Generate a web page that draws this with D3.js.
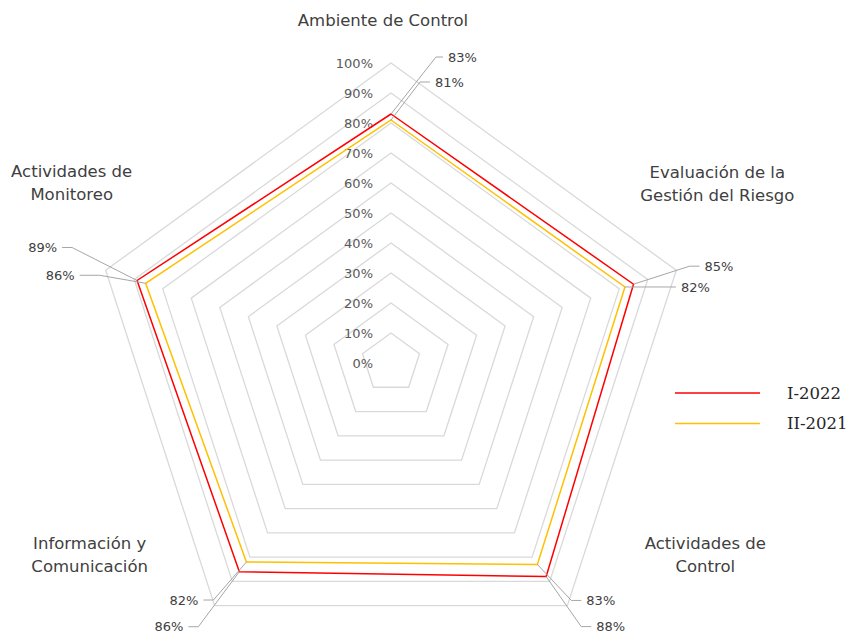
<!DOCTYPE html>
<html><head><meta charset="utf-8">
<script src="https://cdn.jsdelivr.net/npm/d3@7"></script>
<style>body{margin:0;background:#fff}svg{display:block}</style>
</head><body>
<svg id="c" width="850" height="633"></svg>
<script>
const categories = ["Ambiente de Control", "Evaluación de la Gestión del Riesgo", "Actividades de Control", "Información y Comunicación", "Actividades de Monitoreo"];
const categoryLines = [["Ambiente de Control"], ["Evaluación de la", "Gestión del Riesgo"], ["Actividades de", "Control"], ["Información y", "Comunicación"], ["Actividades de", "Monitoreo"]];
const seriesNames = ["I-2022", "II-2021"];
const valuesI2022 = [83, 85, 88, 86, 89];
const valuesII2021 = [81, 82, 83, 82, 86];
const tickValues = [0, 10, 20, 30, 40, 50, 60, 70, 80, 90, 100];
const tickLabels = ["0%", "10%", "20%", "30%", "40%", "50%", "60%", "70%", "80%", "90%", "100%"];

const colors = ["#ff0000", "#ffc000"];
const series = [valuesI2022, valuesII2021];

const svg = d3.select("#c");
const cx = 391, cy = 363, R = 300;
const r = d3.scaleLinear().domain([0, 100]).range([0, R]);
const ang = d3.scalePoint().domain(d3.range(categories.length + 1)).range([0, 2 * Math.PI]);
const pt = (i, v) => {
  const a = ang(i);
  return [cx + r(v) * Math.sin(a), cy - r(v) * Math.cos(a)];
};

// grid
const g = svg.append("g");
tickValues.filter(t => t > 0).forEach(t => {
  g.append("path")
    .attr("d", d3.line()(categories.map((c, i) => pt(i, t))) + "Z")
    .attr("fill", "none").attr("stroke", "#d9d9d9").attr("stroke-width", 1.3);
});

// tick labels
tickValues.forEach((t, k) => {
  svg.append("text").attr("x", cx - 18).attr("y", cy - r(t))
    .attr("dy", "0.36em").attr("text-anchor", "end")
    .attr("font-family", "DejaVu Sans").attr("font-size", 13).attr("fill", "#595959")
    .text(tickLabels[k]);
});

// series lines
series.forEach((vals, s) => {
  svg.append("path")
    .attr("d", d3.line()(vals.map((v, i) => pt(i, v))) + "Z")
    .attr("fill", "none").attr("stroke", colors[s]).attr("stroke-width", 1.5)
    .attr("stroke-linejoin", "miter");
});

// category labels (offset from the outer vertex)
const catOffsets = [[-8, -43], [41, -98], [138, -63], [-125, -63], [-34, -99]];
categoryLines.forEach((lines, i) => {
  const [vx, vy] = pt(i, 100);
  const [dx, dy] = catOffsets[i];
  const t = svg.append("text").attr("text-anchor", "middle")
    .attr("font-family", "DejaVu Sans").attr("font-size", 16.5).attr("fill", "#404040");
  lines.forEach((ln, j) => {
    t.append("tspan").attr("x", vx + dx).attr("y", vy + dy + j * 23).attr("dy", "0.36em").text(ln);
  });
});

// data labels with leader lines: [elbow dx, elbow dy, end dx, text anchor]
const labelLayout = [
  [[45, -57, 52, "start"], [29, -38, 39, "start"]],
  [[56, -18, 66, "start"], [41, 0, 51, "start"]],
  [[35, 50, 45, "start"], [34, 36, 44, "start"]],
  [[-41, 55, -51, "end"], [-33, 38, -43, "end"]],
  [[-65, -33, -75, "end"], [-46, -8, -66, "end"]]
];
categories.forEach((c, i) => {
  series.forEach((vals, s) => {
    const [vx, vy] = pt(i, vals[i]);
    const [ex, ey, tx, anchor] = labelLayout[i][s];
    svg.append("path")
      .attr("d", d3.line()([[vx, vy], [vx + ex, vy + ey], [vx + tx, vy + ey]]))
      .attr("fill", "none").attr("stroke", "#a6a6a6").attr("stroke-width", 1);
    svg.append("text")
      .attr("x", vx + tx + (anchor === "start" ? 5 : -5)).attr("y", vy + ey)
      .attr("dy", "0.36em").attr("text-anchor", anchor)
      .attr("font-family", "DejaVu Sans").attr("font-size", 13).attr("fill", "#404040")
      .text(vals[i] + "%");
  });
});

// legend
const lg = svg.append("g").attr("transform", "translate(675,393)");
seriesNames.forEach((n, s) => {
  lg.append("line").attr("x1", 0).attr("x2", 85).attr("y1", s * 30.5).attr("y2", s * 30.5)
    .attr("stroke", colors[s]).attr("stroke-width", 1.5);
  lg.append("text").attr("x", 112).attr("y", s * 30.5).attr("dy", "0.36em")
    .attr("font-family", "DejaVu Serif").attr("font-size", 16.5).attr("fill", "#262626")
    .text(n);
});
</script>
</body></html>
